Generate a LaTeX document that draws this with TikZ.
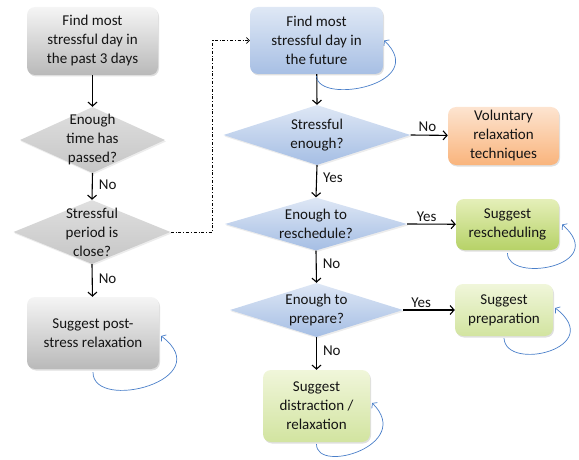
\documentclass[tikz,border=0pt]{standalone}
\usepackage{fontspec}
\setmainfont{Carlito}
\usetikzlibrary{shapes.geometric, shadows, arrows.meta}

\definecolor{inkgray}{HTML}{141414}
\definecolor{loopblue}{HTML}{4A7FC9}

\begin{document}
\begin{tikzpicture}[
    x=1pt, y=-1pt,
    txt/.style={font=\fontsize{15}{19}\selectfont, text=inkgray, align=center, inner sep=0pt},
    box/.style={txt, rectangle, rounded corners=8pt,
        drop shadow={opacity=0.25, shadow xshift=1pt, shadow yshift=-1.5pt}},
    graybox/.style={box, top color=gray!8, bottom color=gray!55},
    bluebox/.style={box, top color={rgb,255:red,223;green,232;blue,245}, bottom color={rgb,255:red,167;green,191;blue,228}},
    orangebox/.style={box, top color={rgb,255:red,253;green,228;blue,208}, bottom color={rgb,255:red,249;green,180;blue,124}},
    greenbox/.style={box, top color={rgb,255:red,229;green,239;blue,185}, bottom color={rgb,255:red,182;green,210;blue,103}},
    paleboxgreen/.style={box, top color={rgb,255:red,240;green,246;blue,218}, bottom color={rgb,255:red,210;green,228;blue,160}},
    decision/.style={diamond, inner sep=0pt,
        drop shadow={opacity=0.15, shadow xshift=1pt, shadow yshift=-1.5pt}},
    graydec/.style={decision, top color=gray!25, bottom color=gray!45},
    bluedec/.style={decision, top color={rgb,255:red,222;green,231;blue,245}, bottom color={rgb,255:red,165;green,190;blue,228}},
    flow/.style={-{Straight Barb[length=4pt,width=9pt]}, line width=1.1pt, black},
    selfloop/.style={-{Straight Barb[length=3pt,width=8pt]}, line width=0.7pt, loopblue},
    jump/.style={-{Straight Barb[length=3pt,width=6pt]}, line width=0.6pt, dash dot, black},
    answer/.style={txt},
]
\useasboundingbox (0,0) rectangle (579,460);

% === Past (left column) ===
\node[graybox, minimum width=131pt, minimum height=68pt] (past) at (92.5,41) {Find most\\stressful day in\\the past 3 days};

\node[graydec, minimum width=145pt, minimum height=66pt] (passed) at (92.5,140) {};
\node[txt] (passedtxt) at (passed) {Enough\\time has\\passed?};

\node[graydec, minimum width=157pt, minimum height=64pt] (close) at (92,232) {};
\node[txt] (closetxt) at (close) {Stressful\\period is\\close?};

\node[graybox, minimum width=132pt, minimum height=72pt] (post) at (93,333) {Suggest post-\\stress relaxation};

% Past arrows
\draw[flow] (past) -- (passed.north);
\draw[flow] (passed.south) -- node[answer, right=6pt, pos=0.45] (no1) {No} (close.north);
\draw[flow] (close.south) -- node[answer, right=6pt, pos=0.45] (no2) {No} (post);

% === Future (right column) ===
\node[bluebox, minimum width=133pt, minimum height=67pt] (future) at (316.5,40.5) {Find most\\stressful day in\\the future};

\node[bluedec, minimum width=187pt, minimum height=60pt] (enough) at (317,135) {};
\node[txt] (enoughtxt) at (enough) {Stressful\\enough?};

\node[bluedec, minimum width=182pt, minimum height=53pt] (resch) at (316,224) {};
\node[txt] (reschtxt) at (resch) {Enough to\\reschedule?};

\node[bluedec, minimum width=173pt, minimum height=54pt] (prep) at (316.5,310) {};
\node[txt] (preptxt) at (prep) {Enough to\\prepare?};

% Outcomes
\node[orangebox, minimum width=111pt, minimum height=58pt] (volun) at (503.5,136) {Voluntary\\relaxation\\techniques};
\node[greenbox, minimum width=103pt, minimum height=51pt] (sugresch) at (507.5,224.5) {Suggest\\rescheduling};
\node[paleboxgreen, minimum width=98pt, minimum height=52pt] (sugprep) at (504,310) {Suggest\\preparation};
\node[paleboxgreen, minimum width=107pt, minimum height=72pt] (distract) at (316.5,406) {Suggest\\distraction /\\relaxation};

% Future arrows
\draw[flow] (future) -- (enough.north);
\draw[flow] (enough.east) -- node[answer, above=3pt, pos=0.45] (no3) {No} (volun);
\draw[flow] (enough.south) -- node[answer, right=6pt, pos=0.4] (yes1) {Yes} (resch.north);
\draw[flow] (resch.east) -- node[answer, above=2pt, pos=0.4] (yes2) {Yes} (sugresch);
\draw[flow] (resch.south) -- node[answer, right=6pt, pos=0.4] (no4) {No} (prep.north);
\draw[flow] (prep.east) -- node[answer, above=2pt, pos=0.35] (yes3) {Yes} (sugprep);
\draw[flow] (prep.south) -- node[answer, right=6pt, pos=0.4] (no5) {No} (distract);

% Jump from past to future
\draw[jump] (close.east) -- ++(42,0) |- (future.west);

% === Self loops ===
\draw[selfloop] ([yshift=-2pt]future.south) .. controls +(2,29) and +(46,44) .. ([xshift=1pt]future.east);
\draw[selfloop] ([yshift=-3pt]post.south) .. controls +(0,40) and +(58,44) .. ([xshift=2pt,yshift=-3pt]post.east);
\draw[selfloop] ([yshift=-3pt]sugresch.south) .. controls +(0,30) and +(48,42) .. ([xshift=3pt]sugresch.east);
\draw[selfloop] ([yshift=-2pt]sugprep.south) .. controls +(2,34) and +(52,40) .. ([xshift=2pt,yshift=2pt]sugprep.east);
\draw[selfloop] ([yshift=-2pt]distract.south) .. controls +(0,30) and +(42,42) .. ([xshift=2pt,yshift=3pt]distract.east);

\end{tikzpicture}
\end{document}
